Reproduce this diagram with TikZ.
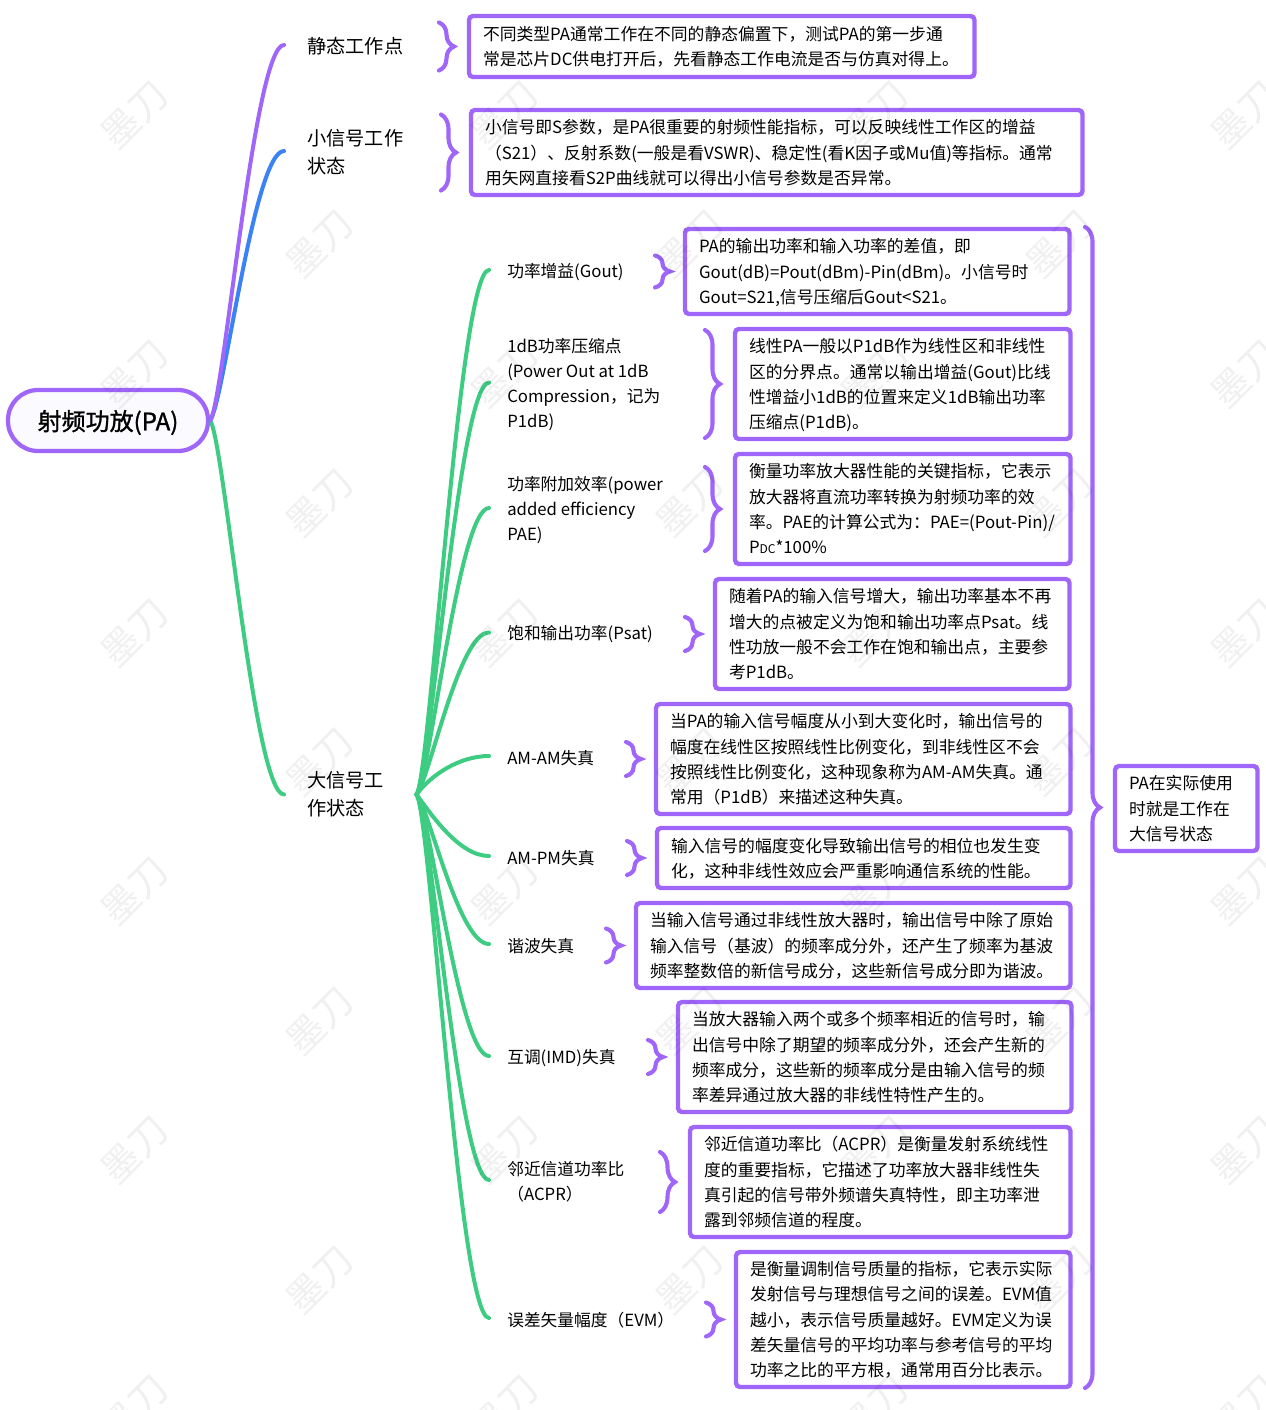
\documentclass[tikz,border=0pt]{standalone}
\usepackage{fontspec}
\setmainfont{Noto Sans CJK SC}
\newfontfamily\rootfont[FakeBold=1.2]{Noto Sans CJK SC}
\usetikzlibrary{math}
\usetikzlibrary{decorations.pathreplacing}
\definecolor{qpurple}{RGB}{159,102,249}
\definecolor{qblue}{RGB}{59,130,246}
\definecolor{qgreen}{RGB}{61,204,130}
\definecolor{qroot}{RGB}{251,250,255}
\def\px{0.75pt}
\tikzset{
 rootbox/.style={draw=qpurple,fill=qroot,line width=3.2pt,rounded corners=30*\px,font=\rootfont\fontsize{18}{21}\selectfont,minimum width=200*\px,minimum height=61*\px,inner sep=0pt},
 infobox/.style 2 args={draw=qpurple,line width=3.3pt,outer sep=0pt,rounded corners=4*\px,anchor=north west,align=left,inner xsep=14*\px,inner ysep=0pt,text width=(#1-26.5)*\px,minimum height=(#2+2)*\px,font=\fontsize{12.6}{18.9}\selectfont,execute at begin node=\rule{0pt}{12.5pt},execute at end node=\rule[-2.5pt]{0pt}{2.5pt}},
 toplabel/.style={anchor=west,align=left,inner xsep=23*\px,inner ysep=0pt,font=\fontsize{14.4}{21}\selectfont},
 sublabel/.style={anchor=west,align=left,inner xsep=18*\px,inner ysep=0pt,font=\fontsize{12.55}{18.9}\selectfont},
 branch/.style={line width=3pt,line cap=round},
 bracket/.style={draw=qpurple,line width=3.1pt,line cap=round,decorate,decoration={brace,amplitude=15*\px}},
 watermark/.style={rotate=45,text=black,text opacity=0.06,inner sep=0pt,font=\fontsize{28.5}{30}\selectfont}
}
\begin{document}
\begin{tikzpicture}[x=0.75pt,y=-0.75pt]
\path[use as bounding box] (0,0) rectangle (1265,1410);

%root and first level:
 \node[rootbox] (root) at (108,420.5) {\raisebox{-1.5pt}[\height][\depth]{射频功放(PA)}};
 \node[toplabel] (static) at (284,46) {静态工作点};
 \node[toplabel] (small) at (284,152) {小信号工作\\状态};
 \node[toplabel,text width=86*\px] (large) at (284,794.5) {大信号工\\作状态};

%second level:
 \node[sublabel] (gain) at (489,272) {功率增益(Gout)};
 \node[sublabel] (pdb) at (489,384.5) {1dB功率压缩点\\(Power Out at 1dB\\Compression，记为\\P1dB)};
 \node[sublabel] (pae) at (489,510) {功率附加效率(power\\added efficiency\\PAE)};
 \node[sublabel] (psat) at (489,634.5) {饱和输出功率(Psat)};
 \node[sublabel] (amam) at (489,758) {AM-AM失真};
 \node[sublabel] (ampm) at (489,858) {AM-PM失真};
 \node[sublabel] (harm) at (489,946) {谐波失真};
 \node[sublabel] (imd) at (489,1058) {互调(IMD)失真};
 \node[sublabel] (acpr) at (489,1182) {邻近信道功率比\\（ACPR）};
 \node[sublabel] (evm) at (489,1320) {误差矢量幅度（EVM）};

%text boxes:
 \node[infobox={504}{59}] (staticbox) at (469,16) {不同类型PA通常工作在不同的静态偏置下，测试PA的第一步通\\常是芯片DC供电打开后，先看静态工作电流是否与仿真对得上。};
 \node[infobox={610}{83}] (smallbox) at (471,110) {小信号即S参数，是PA很重要的射频性能指标，可以反映线性工作区的增益\\（S21）、反射系数(一般是看VSWR)、稳定性(看K因子或Mu值)等指标。通常\\用矢网直接看S2P曲线就可以得出小信号参数是否异常。};
 \node[infobox={383}{83}] (gainbox) at (685,229) {PA的输出功率和输入功率的差值，即\\Gout(dB)=Pout(dBm)-Pin(dBm)。小信号时\\Gout=S21,信号压缩后Gout<S21。};
 \node[infobox={334}{108}] (pdbbox) at (735,329) {线性PA一般以P1dB作为线性区和非线性\\区的分界点。通常以输出增益(Gout)比线\\性增益小1dB的位置来定义1dB输出功率\\压缩点(P1dB)。};
 \node[infobox={334}{108}] (paebox) at (735,454) {衡量功率放大器性能的关键指标，它表示\\放大器将直流功率转换为射频功率的效\\率。PAE的计算公式为：PAE=(Pout-Pin)/\\P{\fontsize{9}{9}\selectfont DC}*100\%};
 \node[infobox={353}{108}] (psatbox) at (715,579) {随着PA的输入信号增大，输出功率基本不再\\增大的点被定义为饱和输出功率点Psat。线\\性功放一般不会工作在饱和输出点，主要参\\考P1dB。};
 \node[infobox={413}{108}] (amambox) at (656,704) {当PA的输入信号幅度从小到大变化时，输出信号的\\幅度在线性区按照线性比例变化，到非线性区不会\\按照线性比例变化，这种现象称为AM-AM失真。通\\常用（P1dB）来描述这种失真。};
 \node[infobox={412}{58}] (ampmbox) at (657,828) {输入信号的幅度变化导致输出信号的相位也发生变\\化，这种非线性效应会严重影响通信系统的性能。};
 \node[infobox={433}{83}] (harmbox) at (636,903) {当输入信号通过非线性放大器时，输出信号中除了原始\\输入信号（基波）的频率成分外，还产生了频率为基波\\频率整数倍的新信号成分，这些新信号成分即为谐波。};
 \node[infobox={392}{108}] (imdbox) at (678,1002) {当放大器输入两个或多个频率相近的信号时，输\\出信号中除了期望的频率成分外，还会产生新的\\频率成分，这些新的频率成分是由输入信号的频\\率差异通过放大器的非线性特性产生的。};
 \node[infobox={379}{108}] (acprbox) at (690,1127) {邻近信道功率比（ACPR）是衡量发射系统线性\\度的重要指标，它描述了功率放大器非线性失\\真引起的信号带外频谱失真特性，即主功率泄\\露到邻频信道的程度。};
 \node[infobox={333}{133}] (evmbox) at (736,1252) {是衡量调制信号质量的指标，它表示实际\\发射信号与理想信号之间的误差。EVM值\\越小，表示信号质量越好。EVM定义为误\\差矢量信号的平均功率与参考信号的平均\\功率之比的平方根，通常用百分比表示。};
 \node[infobox={141}{83}] (statebox) at (1115,766) {PA在实际使用\\时就是工作在\\大信号状态};

%branches:
 \draw[branch,qgreen] (root.east) .. controls +(14,19) and +(-30,0) .. (large.west);
 \draw[branch,qblue] (root.east) .. controls +(14,-19) and +(-30,0) .. ([yshift=0.75pt]small.west);
 \draw[branch,qpurple] (root.east) .. controls +(14,-19) and +(-30,0) .. ([yshift=0.75pt]static.west);
 \foreach \target in {gain,pdb,pae,psat,amam}{
  \draw[branch,qgreen] (large.east) .. controls +(14,-19) and +(-30,0) .. ([yshift=1.5pt]\target.west);
 }
 \foreach \target in {ampm,harm,imd,acpr,evm}{
  \draw[branch,qgreen] (large.east) .. controls +(14,19) and +(-30,0) .. ([yshift=1.5pt]\target.west);
 }

%braces:
 \foreach \boxname/\hh in {staticbox/24,smallbox/38,gainbox/16,pdbbox/54,paebox/42,psatbox/17,amambox/17,ampmbox/17,harmbox/17,imdbox/17,acprbox/30,evmbox/17}{
  \draw[bracket] ([shift={(-30,-\hh)}]\boxname.west) -- ([shift={(-30,\hh)}]\boxname.west);
 }
 \coordinate (bigtop) at (1085,227);
 \coordinate (bigbot) at (1085,1388);
 \draw[bracket] (bigtop) -- (bigbot);

%watermark:
 \begin{scope}
 \clip (0,0) rectangle (1265,1410);
 \foreach \r in {0,...,10}{
  \foreach \c in {0,...,3}{
   \tikzmath{
    \wy=115+129.4*\r;
    \wx=135+185*mod(\r,2)+370*\c;
   }
   \node[watermark] (mark\r\c) at (\wx,\wy) {墨刀};
  }
 }
 \end{scope}
\end{tikzpicture}
\end{document}
